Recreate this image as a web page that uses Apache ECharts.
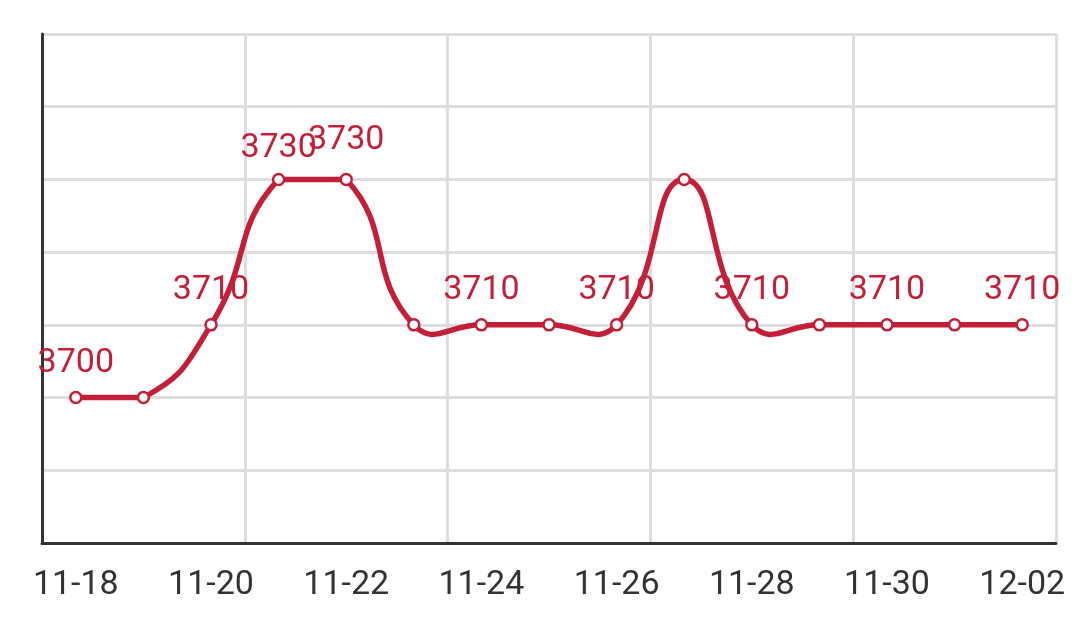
<!DOCTYPE html>
<html>
<head>
<meta charset="utf-8">
<script src="https://cdn.jsdelivr.net/npm/echarts@6/dist/echarts.min.js"></script>
<style>
html,body{margin:0;padding:0;background:#fff;}
#chart{width:1076px;height:639px;}
</style>
</head>
<body>
<div id="chart"></div>
<script>
const categories = ['11-18','11-19','11-20','11-21','11-22','11-23','11-24','11-25','11-26','11-27','11-28','11-29','11-30','12-01','12-02'];
const values = [3700,3700,3710,3730,3730,3710,3710,3710,3710,3730,3710,3710,3710,3710,3710];
const labelShown = [true,false,true,true,true,false,true,false,true,false,true,false,true,false,true];
const labelOffsetY = [0,0,0,4,-4,0,0,0,0,0,0,0,0,0,0];

const RED = '#c41f38';
const SMOOTH = 0.5;

// Classic bezier smoothing (control points clamped to the bounding box of all points)
function smoothPath(pts) {
  let minX = Infinity, minY = Infinity, maxX = -Infinity, maxY = -Infinity;
  pts.forEach(p => { minX = Math.min(minX, p[0]); maxX = Math.max(maxX, p[0]); minY = Math.min(minY, p[1]); maxY = Math.max(maxY, p[1]); });
  const clamp = c => [Math.min(Math.max(c[0], minX), maxX), Math.min(Math.max(c[1], minY), maxY)];
  const cps = [];
  for (let i = 0; i < pts.length; i++) {
    const p = pts[i];
    if (i === 0 || i === pts.length - 1) { cps.push([p[0], p[1]]); continue; }
    const prev = pts[i - 1], next = pts[i + 1];
    const vx = (next[0] - prev[0]) * SMOOTH, vy = (next[1] - prev[1]) * SMOOTH;
    let d0 = Math.hypot(p[0] - prev[0], p[1] - prev[1]);
    let d1 = Math.hypot(p[0] - next[0], p[1] - next[1]);
    const sum = d0 + d1;
    if (sum !== 0) { d0 /= sum; d1 /= sum; }
    cps.push(clamp([p[0] - vx * d0, p[1] - vy * d0]));
    cps.push(clamp([p[0] + vx * d1, p[1] + vy * d1]));
  }
  let d = 'M' + pts[0][0] + ' ' + pts[0][1];
  for (let i = 0; i < pts.length - 1; i++) {
    const c0 = cps[2 * i], c1 = cps[2 * i + 1], n = pts[i + 1];
    d += ' C' + c0[0] + ' ' + c0[1] + ' ' + c1[0] + ' ' + c1[1] + ' ' + n[0] + ' ' + n[1];
  }
  return d;
}

const chart = echarts.init(document.getElementById('chart'));
const labelData = values.map((v,i)=>({
  value: v,
  label: { show: labelShown[i], offset: [0, labelOffsetY[i]] }
}));
chart.setOption({
  animation: false,
  textStyle: { fontFamily: 'Roboto' },
  grid: { left: 42, right: 20, top: 34, bottom: 96 },
  xAxis: {
    type: 'category',
    data: categories,
    boundaryGap: true,
    axisLine: { lineStyle: { color: '#333', width: 3 } },
    axisTick: { show: false },
    axisLabel: { interval: 1, fontSize: 34, color: '#333', margin: 25, fontFamily: 'Roboto' },
    splitLine: { show: true, interval: 2, lineStyle: { color: '#dddddd', width: 3 } }
  },
  yAxis: {
    type: 'value',
    min: 3680, max: 3750, interval: 10,
    axisLabel: { show: false },
    axisTick: { show: false },
    axisLine: { show: true, lineStyle: { color: '#333', width: 3 } },
    splitLine: { lineStyle: { color: '#dddddd', width: 3 } }
  },
  series: [
    {
      // value labels (below the line)
      type: 'line',
      data: labelData,
      symbol: 'circle',
      symbolSize: 11,
      itemStyle: { color: 'transparent', borderWidth: 0 },
      lineStyle: { width: 0, opacity: 0 },
      label: { position: 'top', distance: 12, fontSize: 34, color: RED, fontFamily: 'Roboto' },
      z: 2
    },
    {
      // smooth line
      type: 'custom',
      data: values.map((v,i)=>[i, v]),
      renderItem: function (params, api) {
        if (params.dataIndex !== 0) return null;
        const pts = values.map((v,i)=>api.coord([i, v]));
        return {
          type: 'path',
          shape: { pathData: smoothPath(pts) },
          style: { fill: 'none', stroke: RED, lineWidth: 5.5, lineJoin: 'round' }
        };
      },
      clip: false,
      silent: true,
      z: 3
    },
    {
      // point markers
      type: 'line',
      data: values,
      symbol: 'circle',
      symbolSize: 11,
      itemStyle: { color: '#fff', borderColor: RED, borderWidth: 2.5 },
      lineStyle: { width: 0, opacity: 0 },
      label: { show: false },
      z: 4
    }
  ]
});
</script>
</body>
</html>
